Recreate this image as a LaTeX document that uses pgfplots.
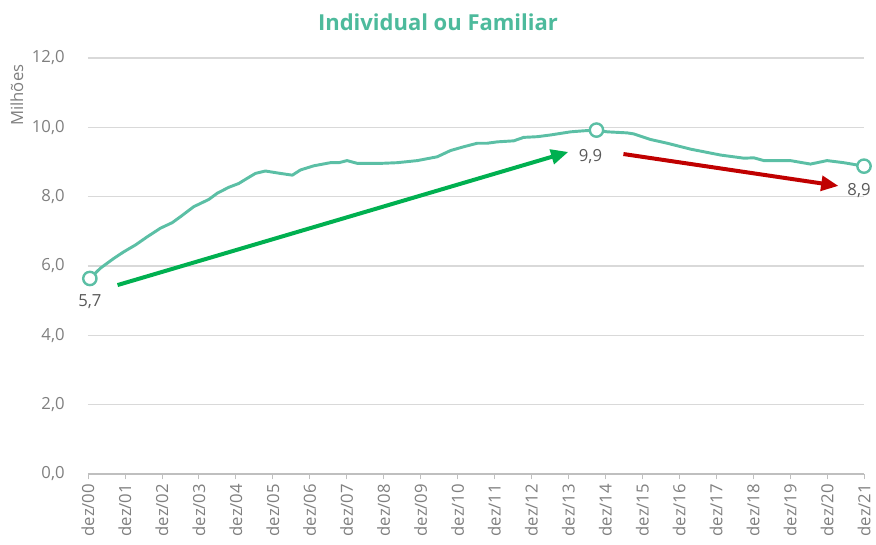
\documentclass[border=0pt]{standalone}
\usepackage{fontspec}
\setmainfont{Open Sans}
\usepackage{pgfplots}
\pgfplotsset{compat=1.18}
\usetikzlibrary{arrows.meta}
\definecolor{teal1}{HTML}{5BBFA5}
\definecolor{titlec}{HTML}{4DBA9C}
\definecolor{tickc}{HTML}{7F7F7F}
\definecolor{labc}{HTML}{595959}
\definecolor{gridc}{HTML}{D9D9D9}
\definecolor{axc}{HTML}{BFBFBF}
\definecolor{garrow}{HTML}{00B050}
\definecolor{rarrow}{HTML}{C00000}
\begin{document}
\begin{tikzpicture}
\path[use as bounding box] (-66pt,-53.25pt) rectangle (591pt,355.5pt);
\begin{axis}[
  at={(0,0)}, anchor=south west,
  scale only axis, width=582pt, height=312pt,
  xmin=0, xmax=21, ymin=0, ymax=12,
  axis x line*=bottom, axis y line*=left,
  y axis line style={draw=none},
  x axis line style={draw=axc, line width=0.8pt},
  xtick={0,1,...,21},
  xticklabels={dez/00,dez/01,dez/02,dez/03,dez/04,dez/05,dez/06,dez/07,dez/08,dez/09,dez/10,dez/11,dez/12,dez/13,dez/14,dez/15,dez/16,dez/17,dez/18,dez/19,dez/20,dez/21},
  xticklabel style={rotate=90, anchor=east, font=\fontsize{12.5pt}{14pt}\selectfont, text=tickc, yshift=0pt},
  tick align=outside,
  xtick style={draw=axc, line width=0.6pt},
  major tick length=4pt,
  ytick={0,2,...,12},
  ytick style={draw=none},
  yticklabel style={font=\fontsize{12.5pt}{14pt}\selectfont, text=tickc, xshift=-10pt},
  /pgf/number format/.cd, use comma, fixed, fixed zerofill, precision=1, assume math mode=true,
  /pgfplots/.cd,
  ymajorgrids, grid style={draw=gridc, line width=0.8pt},
  clip=false,
]
\addplot[teal1, line width=2.2pt, line join=round] coordinates {
(0.05,5.64) (0.34,5.94) (0.70,6.22) (0.97,6.41) (1.29,6.61) (1.60,6.84) (1.96,7.09)
(2.28,7.25) (2.50,7.42) (2.86,7.71) (3.27,7.92) (3.50,8.10) (3.81,8.27) (4.08,8.38)
(4.31,8.53) (4.53,8.67) (4.80,8.74) (5.21,8.67) (5.53,8.62) (5.75,8.77) (6.11,8.89)
(6.56,8.98) (6.79,8.98) (7.01,9.04) (7.29,8.96) (7.92,8.96) (8.37,8.98) (8.91,9.04)
(9.45,9.15) (9.81,9.33) (10.17,9.44) (10.53,9.54) (10.80,9.54) (11.07,9.58) (11.52,9.61)
(11.79,9.71) (12.16,9.73) (12.52,9.78) (13.06,9.87) (13.42,9.90) (13.76,9.92) (14.05,9.87)
(14.59,9.84) (14.77,9.81) (15.22,9.65) (15.68,9.54) (16.31,9.37) (17.12,9.20) (17.75,9.11)
(18.02,9.12) (18.29,9.04) (19.01,9.04) (19.55,8.94) (20.00,9.04) (20.45,8.98) (21.00,8.88)
};
\addplot[only marks, mark=*, mark size=5pt, mark options={fill=white, draw=teal1, line width=1.8pt}] coordinates {
(0.05,5.64) (13.76,9.92) (21,8.88)
};
\draw[garrow, line width=3pt, -{Triangle[length=13pt,width=11pt]}] (axis cs:0.80,5.45) -- (axis cs:13.0,9.29);
\draw[rarrow, line width=3pt, -{Triangle[length=13pt,width=11pt]}] (axis cs:14.49,9.23) -- (axis cs:20.31,8.31);
\node[text=labc, font=\fontsize{12.5pt}{14pt}\selectfont] at ([yshift=-17pt]axis cs:0.05,5.64) {5,7};
\node[text=labc, font=\fontsize{12.5pt}{14pt}\selectfont] at ([xshift=-4.5pt,yshift=-20pt]axis cs:13.76,9.92) {9,9};
\node[text=labc, font=\fontsize{12.5pt}{14pt}\selectfont, anchor=east] at ([xshift=8.5pt,yshift=-18pt]axis cs:21,8.88) {8,9};
\node[rotate=90, anchor=east, text=tickc, font=\fontsize{12.5pt}{14pt}\selectfont] at ([xshift=-53.25pt,yshift=-1.5pt]rel axis cs:0,1) {Milhões};
\node[text=titlec, font=\bfseries\fontsize{16.5pt}{18pt}\selectfont] at ([xshift=262.5pt,yshift=27pt]rel axis cs:0,1) {Individual ou Familiar};
\end{axis}
\end{tikzpicture}
\end{document}
